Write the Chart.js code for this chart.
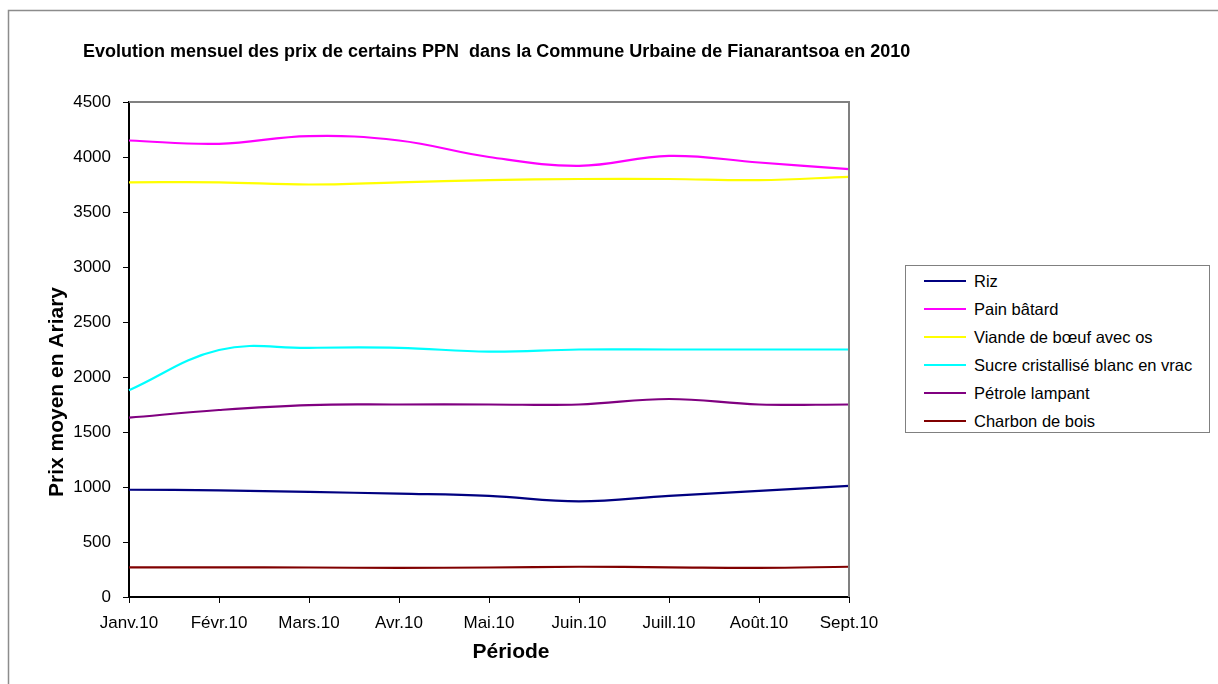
<!DOCTYPE html>
<html><head><meta charset="utf-8">
<script src="https://cdn.jsdelivr.net/npm/chart.js@4/dist/chart.umd.min.js"></script>
<style>
body{margin:0;background:#fff;}
#wrap{position:relative;width:1218px;height:684px;overflow:hidden;}
canvas{position:absolute;left:0;top:0;}
#legend{position:absolute;left:905px;top:265px;width:305px;height:168px;border:1px solid #808080;box-sizing:border-box;font-family:"Liberation Sans",Arial,sans-serif;font-size:16.5px;color:#000;background:#fff;}
.item{position:absolute;left:18px;height:20px;display:flex;align-items:center;white-space:nowrap;}
.sw{width:42px;height:2px;margin-right:8px;}
</style></head>
<body><div id="wrap"><canvas id="c" width="1218" height="684"></canvas><div id="legend"></div></div>
<script>
const categories = ['Janv.10','Févr.10','Mars.10','Avr.10','Mai.10','Juin.10','Juill.10','Août.10','Sept.10'];
const seriesNames = ['Riz','Pain bâtard','Viande de bœuf avec os','Sucre cristallisé blanc en vrac','Pétrole lampant','Charbon de bois'];
const riz     = [975, 970, 955, 940, 920, 870, 920, 965, 1010];
const pain    = [4150, 4120, 4190, 4150, 4000, 3920, 4010, 3950, 3890];
const viande  = [3770, 3770, 3750, 3770, 3790, 3800, 3800, 3790, 3820];
const sucre   = [1880, 2245, 2265, 2265, 2230, 2250, 2250, 2250, 2250];
const petrole = [1630, 1700, 1745, 1750, 1750, 1750, 1800, 1750, 1750];
const charbon = [270, 270, 268, 265, 268, 275, 270, 265, 275];
const colors  = ['#000080','#FF00FF','#FFFF00','#00FFFF','#800080','#800000'];
const chartTitle = 'Evolution mensuel des prix de certains PPN  dans la Commune Urbaine de Fianarantsoa en 2010';
const xTitle = 'Période';
const yTitle = 'Prix moyen en Ariary';

const values = [riz, pain, viande, sucre, petrole, charbon];
const FONT = '"Liberation Sans", Arial, sans-serif';

const decor = {
  id:'decor',
  beforeDraw(chart){
    const ctx = chart.ctx;
    ctx.save();
    ctx.fillStyle='#fff'; ctx.fillRect(0,0,chart.width,chart.height);
    ctx.strokeStyle='#8c8c8c'; ctx.lineWidth=1.5;
    ctx.beginPath(); ctx.moveTo(8.5,684); ctx.lineTo(8.5,10.5); ctx.lineTo(1218,10.5); ctx.stroke();
    ctx.restore();
  },
  afterDatasetsDraw(chart){
    const ctx = chart.ctx, a = chart.chartArea;
    ctx.save();
    ctx.strokeStyle='#808080'; ctx.lineWidth=2;
    ctx.beginPath(); ctx.moveTo(a.left,a.top); ctx.lineTo(a.right,a.top); ctx.lineTo(a.right,a.bottom); ctx.stroke();
    ctx.fillStyle='#000';
    ctx.font='bold 18px '+FONT; ctx.textAlign='left'; ctx.textBaseline='alphabetic';
    ctx.fillText(chartTitle, 83, 57);
    ctx.font='bold 21px '+FONT; ctx.textAlign='center'; ctx.textBaseline='middle';
    ctx.fillText(xTitle, 511, 652);
    ctx.translate(57, 392); ctx.rotate(-Math.PI/2);
    ctx.fillText(yTitle, 0, 0);
    ctx.restore();
  }
};

new Chart(document.getElementById('c'), {
  type:'line',
  data:{
    labels: categories,
    datasets: seriesNames.map((n,i)=>({
      label:n, data:values[i], borderColor:colors[i], backgroundColor:colors[i],
      borderWidth:2.2, pointRadius:0, tension:0.4, fill:false
    }))
  },
  options:{
    responsive:false, animation:false,
    layout:{padding:{left:0,top:102,right:369,bottom:0}},
    plugins:{legend:{display:false}, title:{display:false}, tooltip:{enabled:false}},
    scales:{
      x:{
        grid:{display:true, drawOnChartArea:false, tickLength:6, color:'#000'},
        border:{color:'#000', width:2},
        ticks:{font:{family:FONT,size:17}, color:'#000', padding:10, maxRotation:0, autoSkip:false},
        afterFit(s){ s.height = 87; }
      },
      y:{
        min:0, max:4500,
        grid:{display:true, drawOnChartArea:false, tickLength:6, color:'#000'},
        border:{color:'#000', width:2},
        ticks:{stepSize:500, font:{family:FONT,size:17}, color:'#000', padding:12, callback:(v)=>String(v)},
        afterFit(s){ s.width = 129; }
      }
    }
  },
  plugins:[decor]
});

const lg = document.getElementById('legend');
seriesNames.forEach((n,i)=>{
  const d = document.createElement('div');
  d.className='item'; d.style.top=(5+i*28)+'px';
  d.innerHTML='<span class="sw" style="background:'+colors[i]+'"></span><span>'+n+'</span>';
  lg.appendChild(d);
});
</script>
</body></html>
